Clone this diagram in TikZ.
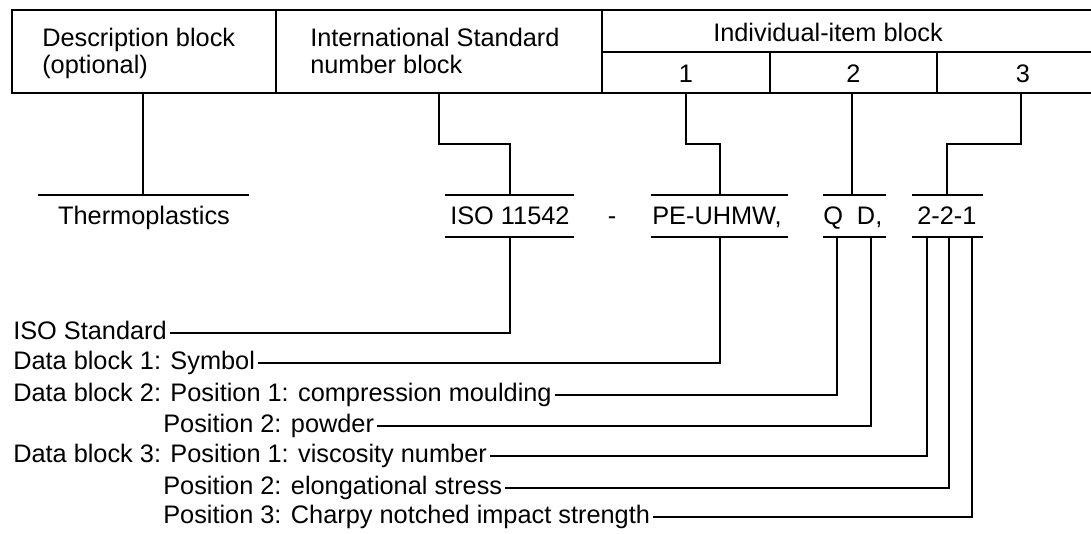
\documentclass[tikz,border=0pt]{standalone}
\usepackage{fontspec}
\setmainfont{Liberation Sans}
\begin{document}
\begin{tikzpicture}[x=0.75pt,y=-0.75pt,
  ln/.style={line width=1.5pt},
  txt/.style={inner sep=0pt, font=\fontsize{19}{20.25}\selectfont},
  lbl/.style={txt, anchor=base west, inner xsep=2.25pt}]
\clip (0,0) rectangle (1091,533);
% ---------- top table ----------
\draw[ln] (12,10) rectangle (1115,93);
\draw[ln] (276,10) -- (276,93);
\draw[ln] (602,10) -- (602,93);
\draw[ln] (602,52) -- (1115,52);
\draw[ln] (770,52) -- (770,93);
\draw[ln] (937,52) -- (937,93);
\node[txt, anchor=north west, align=left] (desc) at (42,27.5) {Description block\\(optional)};
\node[txt, anchor=north west, align=left] (isnb) at (310,27.5) {International Standard\\number block};
\node[txt, anchor=base] (iib) at (828,41) {Individual-item block};
\node[txt, anchor=base] (n1) at (686,82) {1};
\node[txt, anchor=base] (n2) at (853.5,82) {2};
\node[txt, anchor=base] (n3) at (1023,82) {3};
% ---------- stems from table ----------
\coordinate (s0) at (143,93);  \coordinate (e0) at (143,195);
\coordinate (s1) at (439,93);  \coordinate (e1) at (510,195);
\coordinate (s2) at (686,93);  \coordinate (e2) at (720,195);
\coordinate (s3) at (852,93);  \coordinate (e3) at (852,195);
\coordinate (s4) at (1021,93); \coordinate (e4) at (947,195);
\draw[ln] (s0) -- (e0);
\draw[ln] (s1) -- ++(0,51) -| (e1);
\draw[ln] (s2) -- ++(0,51) -| (e2);
\draw[ln] (s3) -- (e3);
\draw[ln] (s4) -- ++(0,51) -| (e4);
% ---------- designation row ----------
\node[txt, anchor=base] (therm) at (144,224) {Thermoplastics};
\node[txt, anchor=base west] (iso) at (450,224) {ISO 11542};
\node[txt, anchor=base] (dash) at (612,224) {-};
\node[txt, anchor=base west] (pe) at (652,224) {PE-UHMW,};
\node[txt, anchor=base west] (qd) at (823,224) {Q\hspace{10.5pt}D,};
\node[txt, anchor=base west] (num) at (917,224) {2-2-1};
\draw[ln] (38,195) -- (249,195);
\draw[ln] (445,195) -- (574,195);
\draw[ln] (445,237) -- (574,237);
\draw[ln] (651,195) -- (788,195);
\draw[ln] (651,237) -- (788,237);
\draw[ln] (823,195) -- (886,195);
\draw[ln] (823,237) -- (886,237);
\draw[ln] (912,195) -- (983,195);
\draw[ln] (912,237) -- (983,237);
% ---------- explanation labels ----------
\node[lbl] (L1) at (10,339.5) {ISO Standard\ };
\node[lbl] (L2) at (10,369.5) {Data block 1: Symbol};
\node[lbl] (L3) at (10,401.5) {Data block 2: Position 1: compression moulding};
\node[lbl] (L4) at (160,432.5) {Position 2: powder};
\node[lbl] (L5) at (10,462.5) {Data block 3: Position 1: viscosity number};
\node[lbl] (L6) at (160,494.5) {Position 2: elongational stress};
\node[lbl] (L7) at (160,523.5) {Position 3: Charpy notched impact strength};
\coordinate (b1) at (510,237); \coordinate (k1) at (510,333);
\coordinate (b2) at (720,237); \coordinate (k2) at (720,363);
\coordinate (b3) at (837,237); \coordinate (k3) at (837,395);
\coordinate (b4) at (871,237); \coordinate (k4) at (871,426);
\coordinate (b5) at (927,237); \coordinate (k5) at (927,456);
\coordinate (b6) at (949,237); \coordinate (k6) at (949,488);
\coordinate (b7) at (972,237); \coordinate (k7) at (972,517);
\foreach \i in {1,...,7}{
  \draw[ln] (b\i) -- (k\i) -- (L\i.east |- k\i);
}
\end{tikzpicture}
\end{document}
